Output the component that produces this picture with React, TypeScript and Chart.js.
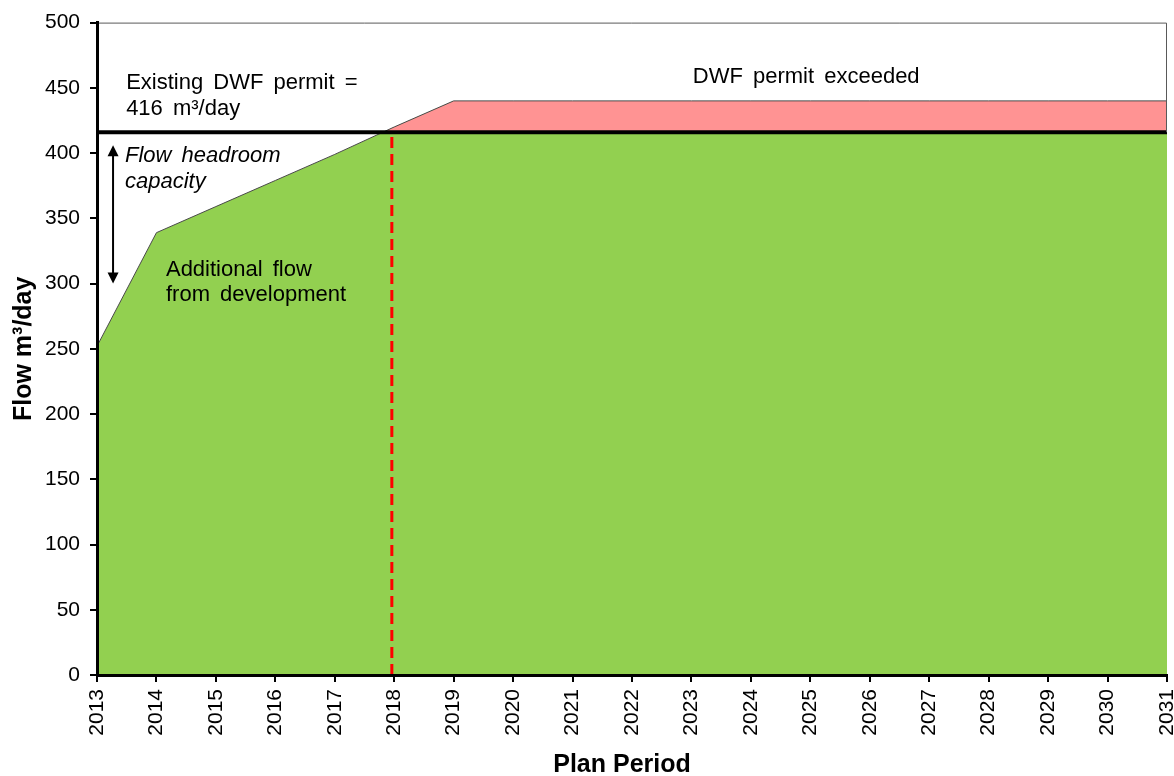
import React, { useEffect, useRef } from 'react';
import { Chart, registerables } from 'chart.js';

Chart.register(...registerables);

// ---- data ----
const years = [2013, 2014, 2015, 2016, 2017, 2018, 2019, 2020, 2021, 2022, 2023, 2024, 2025, 2026, 2027, 2028, 2029, 2030, 2031];
const flow = [252, 339, 359, 379, 399, 420, 440, 440, 440, 440, 440, 440, 440, 440, 440, 440, 440, 440, 440];
const permitYears = [2013, 2031];
const permitValue = 416;
const developmentYear = 2017.96;
const yMin = 0;
const yMax = 500;
const yStep = 50;

const permitLabel = ['Existing DWF permit =', '416 m\u00B3/day'];
const exceededLabel = 'DWF permit exceeded';
const headroomLabel = ['Flow headroom', 'capacity'];
const additionalLabel = ['Additional flow', 'from development'];
const xTitle = 'Plan Period';
const yTitle = 'Flow m\u00B3/day';

const FONT = "'Liberation Sans', Arial, Helvetica, sans-serif";
const GREEN = '#92D050';
const PINK = '#FF9393';

const annotationPlugin = {
  id: 'annotations',
  afterDatasetsDraw(chart: any) {
    const { ctx, chartArea, scales } = chart;
    const x = scales.x;
    const y = scales.y;
    ctx.save();
    // frame (top and right)
    ctx.strokeStyle = '#595959';
    ctx.lineWidth = 1;
    ctx.beginPath();
    ctx.moveTo(chartArea.left, chartArea.top + 0.5);
    ctx.lineTo(chartArea.right - 0.5, chartArea.top + 0.5);
    ctx.lineTo(chartArea.right - 0.5, y.getPixelForValue(permitValue));
    ctx.stroke();

    ctx.fillStyle = '#000';
    ctx.textBaseline = 'middle';
    try { (ctx as any).wordSpacing = '4px'; } catch (e) {}
    // permit label
    ctx.font = `22px ${FONT}`;
    ctx.textAlign = 'left';
    ctx.fillText(permitLabel[0], x.getPixelForValue(2013.49), y.getPixelForValue(454));
    ctx.fillText(permitLabel[1], x.getPixelForValue(2013.49), y.getPixelForValue(434));
    // exceeded
    ctx.textAlign = 'center';
    ctx.fillText(exceededLabel, x.getPixelForValue(2024.93), y.getPixelForValue(458));
    // additional flow
    ctx.textAlign = 'left';
    ctx.fillText(additionalLabel[0], x.getPixelForValue(2014.16), y.getPixelForValue(310.5));
    ctx.fillText(additionalLabel[1], x.getPixelForValue(2014.16), y.getPixelForValue(291));
    // headroom
    ctx.font = `italic 22px ${FONT}`;
    ctx.fillText(headroomLabel[0], x.getPixelForValue(2013.47), y.getPixelForValue(398));
    ctx.fillText(headroomLabel[1], x.getPixelForValue(2013.47), y.getPixelForValue(378));

    // x axis title
    try { (ctx as any).wordSpacing = '0px'; } catch (e) {}
    ctx.font = `bold 25px ${FONT}`;
    ctx.textAlign = 'center';
    ctx.fillText(xTitle, (chartArea.left + chartArea.right) / 2 - 10, chart.height - 11);

    // double-headed arrow
    const ax = x.getPixelForValue(2013.27);
    const top = y.getPixelForValue(406);
    const bot = y.getPixelForValue(300);
    const head = 11;
    const hw = 5.5;
    ctx.strokeStyle = '#000';
    ctx.lineWidth = 2;
    ctx.beginPath();
    ctx.moveTo(ax, top + head - 1);
    ctx.lineTo(ax, bot - head + 1);
    ctx.stroke();
    ctx.beginPath();
    ctx.moveTo(ax, top);
    ctx.lineTo(ax - hw, top + head);
    ctx.lineTo(ax + hw, top + head);
    ctx.closePath();
    ctx.fill();
    ctx.beginPath();
    ctx.moveTo(ax, bot);
    ctx.lineTo(ax - hw, bot - head);
    ctx.lineTo(ax + hw, bot - head);
    ctx.closePath();
    ctx.fill();
    ctx.restore();
  },
};

export default function App() {
  const canvasRef = useRef<HTMLCanvasElement | null>(null);

  useEffect(() => {
    document.body.style.margin = '0';
    const canvas = canvasRef.current;
    if (!canvas) return;
    const flowPoints = years.map((yr, i) => ({ x: yr, y: flow[i] }));
    const chart = new Chart(canvas, {
      type: 'line',
      data: {
        datasets: [
          {
            label: 'Permit',
            data: permitYears.map((yr) => ({ x: yr, y: permitValue })),
            borderColor: '#000',
            borderWidth: 4,
            pointRadius: 0,
            fill: false,
            order: 0,
          },
          {
            label: 'Development',
            data: [
              { x: developmentYear, y: yMin },
              { x: developmentYear, y: permitValue },
            ],
            borderColor: '#FF0000',
            borderWidth: 3,
            borderDash: [11, 6],
            pointRadius: 0,
            fill: false,
            order: 1,
          },
          {
            label: 'Exceeded',
            data: flowPoints,
            borderColor: '#4a4a4a',
            borderWidth: 1,
            pointRadius: 0,
            fill: { target: { value: permitValue }, above: PINK, below: 'rgba(0,0,0,0)' },
            order: 2,
          },
          {
            label: 'Flow',
            data: flowPoints,
            borderWidth: 0,
            borderColor: 'rgba(0,0,0,0)',
            backgroundColor: GREEN,
            pointRadius: 0,
            fill: 'origin',
            order: 3,
          },
        ],
      },
      plugins: [annotationPlugin],
      options: {
        responsive: false,
        animation: false,
        devicePixelRatio: 1,
        layout: { padding: { top: 22, right: 7, bottom: 0, left: 0 } },
        plugins: {
          legend: { display: false },
          tooltip: { enabled: false },
        },
        elements: { line: { tension: 0 } },
        scales: {
          x: {
            type: 'linear',
            min: years[0],
            max: years[years.length - 1],
            afterFit: (scale: any) => {
              scale.height = 101;
              scale.paddingLeft = 0;
              scale.paddingRight = 0;
            },
            ticks: {
              stepSize: 1,
              autoSkip: false,
              minRotation: 90,
              maxRotation: 90,
              padding: 7,
              color: '#000',
              font: { family: FONT, size: 21 },
              callback: (v: any) => String(v),
            },
            grid: {
              display: true,
              drawOnChartArea: false,
              drawTicks: true,
              tickLength: 7,
              color: '#000',
              lineWidth: 2,
            },
            border: { display: true, color: '#000', width: 3, z: 2 },
            title: { display: false },
          },
          y: {
            min: yMin,
            max: yMax,
            afterFit: (scale: any) => {
              scale.width = 97;
            },
            ticks: {
              stepSize: yStep,
              padding: 10,
              color: '#000',
              font: { family: FONT, size: 21 },
            },
            grid: {
              display: true,
              drawOnChartArea: false,
              drawTicks: true,
              tickLength: 7,
              color: '#000',
              lineWidth: 2,
            },
            border: { display: true, color: '#000', width: 3, z: 2 },
            title: {
              display: true,
              text: yTitle,
              color: '#000',
              font: { family: FONT, size: 25, weight: 'bold', lineHeight: 1 },
              padding: { top: 12, bottom: 0 },
            },
          },
        },
      } as any,
    });
    return () => chart.destroy();
  }, []);

  return (
    <div style={{ width: 1174, height: 776 }}>
      <canvas ref={canvasRef} width={1174} height={776} style={{ display: 'block' }} />
    </div>
  );
}
